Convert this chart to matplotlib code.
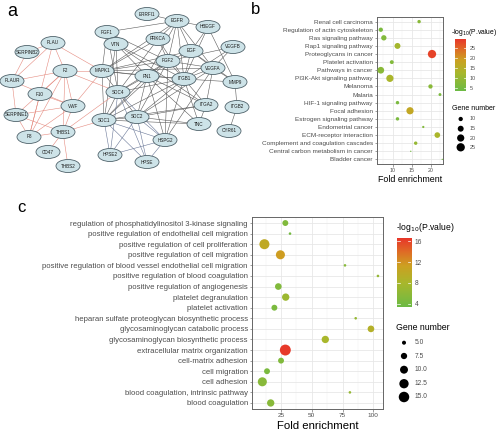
import numpy as np
import matplotlib
matplotlib.use("Agg")
import matplotlib.pyplot as plt
from matplotlib.patches import Ellipse
from matplotlib.colors import LinearSegmentedColormap, Normalize

plt.rcParams['font.family'] = ['Liberation Sans', 'DejaVu Sans']

# ---------------- data ----------------
# Panel a: network (node layout positions in panel pixel space)
node_names = ["ERRFI1", "EGFR", "HBEGF", "FGF1", "PRKCA", "VTN", "EGF", "VEGFB", "PLAU",
              "SERPINB2", "FGF2", "VEGFA", "F2", "MAPK1", "FN1", "ITGB1", "MMP9", "PLAUR",
              "F10", "SDC4", "VWF", "ITGA2", "ITGB2", "SERPINE1", "SDC1", "SDC2", "TNC",
              "CYR61", "F8", "THBS1", "HSPG2", "CD47", "HPSE2", "HPSE", "THBS2"]
node_x = [147, 177, 208, 107, 158, 116, 191, 233, 53, 27, 168, 213, 65, 102, 147, 184, 235, 12,
          40, 118, 73, 206, 237, 16, 104, 137, 199, 229, 29, 63, 165, 48, 110, 147, 68]
node_y = [14, 21, 27, 32, 39, 44, 51, 47, 43, 52, 61, 68, 71, 71, 76, 79, 82, 81,
          94, 92, 106, 105, 107, 115, 120, 117, 124, 131, 137, 132, 140, 152, 155, 162, 166]

red_edges = [("PLAU", "SERPINB2"), ("PLAU", "F2"), ("PLAU", "MAPK1"), ("PLAU", "PLAUR"), ("PLAU", "F8"),
             ("SERPINB2", "PLAUR"), ("PLAUR", "F2"), ("PLAUR", "SERPINE1"), ("PLAUR", "VWF"),
             ("F2", "F10"), ("F2", "VWF"), ("F2", "F8"), ("F2", "MAPK1"), ("F2", "SDC4"),
             ("F2", "SERPINE1"), ("F2", "THBS1"), ("F10", "VWF"), ("F10", "F8"),
             ("VWF", "SERPINE1"), ("VWF", "F8"), ("VWF", "THBS1"), ("VWF", "MAPK1"),
             ("SERPINE1", "F8"), ("SERPINE1", "THBS1"), ("F8", "THBS1"), ("THBS1", "CD47"),
             ("THBS1", "THBS2"), ("THBS1", "SDC1"), ("THBS1", "SDC4")]
blue_edges = [("SDC1", "HPSE2"), ("SDC1", "HPSE"), ("SDC2", "HPSE2"), ("SDC2", "HPSE"),
              ("HSPG2", "HPSE"), ("HSPG2", "HPSE2"), ("SDC4", "HPSE2"), ("SDC4", "HPSE"),
              ("SDC1", "HSPG2"), ("SDC2", "HSPG2"), ("SDC4", "HSPG2")]
dark_edges = [("ERRFI1", "EGFR"), ("EGFR", "FGF1"), ("EGFR", "HBEGF"), ("EGFR", "PRKCA"), ("EGFR", "EGF"),
              ("EGFR", "FGF2"), ("EGFR", "ITGB1"), ("EGFR", "VEGFA"), ("EGFR", "MAPK1"), ("EGFR", "FN1"),
              ("HBEGF", "EGF"), ("HBEGF", "MMP9"), ("HBEGF", "ITGB1"), ("FGF1", "SDC4"), ("FGF1", "FGF2"),
              ("FGF1", "MAPK1"), ("VTN", "ITGB1"), ("VTN", "FN1"), ("VTN", "SDC4"), ("VTN", "ITGA2"),
              ("VTN", "SDC1"), ("PRKCA", "MAPK1"), ("PRKCA", "FGF2"), ("PRKCA", "SDC4"), ("PRKCA", "ITGB1"),
              ("EGF", "FGF2"), ("EGF", "VEGFA"), ("EGF", "MAPK1"), ("EGF", "ITGB1"), ("EGF", "MMP9"),
              ("VEGFB", "VEGFA"), ("VEGFB", "FGF2"), ("VEGFB", "ITGB1"), ("FGF2", "MAPK1"), ("FGF2", "FN1"),
              ("FGF2", "VEGFA"), ("FGF2", "SDC4"), ("FGF2", "SDC2"), ("FGF2", "SDC1"), ("FGF2", "HSPG2"),
              ("FGF2", "ITGB1"), ("VEGFA", "MAPK1"), ("VEGFA", "ITGB1"), ("VEGFA", "MMP9"), ("VEGFA", "SDC2"),
              ("VEGFA", "HSPG2"), ("VEGFA", "ITGA2"), ("MAPK1", "FN1"), ("MAPK1", "ITGB1"),
              ("MAPK1", "SDC4"), ("MAPK1", "SDC1"), ("FN1", "ITGB1"), ("FN1", "SDC4"),
              ("FN1", "SDC1"), ("FN1", "SDC2"), ("FN1", "ITGA2"), ("FN1", "TNC"), ("FN1", "HSPG2"),
              ("ITGB1", "MMP9"), ("ITGB1", "ITGA2"), ("ITGB1", "SDC4"), ("ITGB1", "SDC1"),
              ("ITGB1", "SDC2"), ("ITGB1", "TNC"), ("MMP9", "ITGB2"), ("ITGA2", "TNC"),
              ("ITGA2", "SDC2"), ("ITGA2", "SDC1"), ("ITGB2", "CYR61"), ("SDC4", "SDC1"),
              ("SDC4", "SDC2"), ("SDC1", "SDC2"), ("SDC1", "TNC"), ("SDC2", "TNC"),
              ("ITGB1", "HSPG2")]

# Panel b: KEGG
b_terms = ["Renal cell carcinoma", "Regulation of actin cytoskeleton", "Ras signaling pathway",
           "Rap1 signaling pathway", "Proteoglycans in cancer", "Platelet activation",
           "Pathways in cancer", "PI3K-Akt signaling pathway", "Melanoma", "Malaria",
           "HIF-1 signaling pathway", "Focal adhesion", "Estrogen signaling pathway",
           "Endometrial cancer", "ECM-receptor interaction", "Complement and coagulation cascades",
           "Central carbon metabolism in cancer", "Bladder cancer"]
b_fold = [16.9, 6.8, 7.6, 11.2, 20.3, 9.7, 6.8, 9.2, 19.9, 22.4, 11.2, 14.5, 11.2, 18.0, 21.7, 16.0, 14.7, 23.0]
b_genes = [8, 10, 13, 15, 25, 9, 18, 20, 10, 7, 8, 20, 8, 6, 14, 8, 5, 5]
b_logp = [8, 6, 7, 12, 28, 7, 8, 13, 8, 6, 6, 17, 6, 7, 13, 10, 5, 5]
b_xticks = [10, 15, 20]
b_cticks = [5, 10, 15, 20, 25]
b_legend = [10, 15, 20, 25]

# Panel c: GO BP
c_terms = ["regulation of phosphatidylinositol 3-kinase signaling",
           "positive regulation of endothelial cell migration",
           "positive regulation of cell proliferation",
           "positive regulation of cell migration",
           "positive regulation of blood vessel endothelial cell migration",
           "positive regulation of blood coagulation",
           "positive regulation of angiogenesis",
           "platelet degranulation",
           "platelet activation",
           "heparan sulfate proteoglycan biosynthetic process",
           "glycosaminoglycan catabolic process",
           "glycosaminoglycan biosynthetic process",
           "extracellular matrix organization",
           "cell-matrix adhesion",
           "cell migration",
           "cell adhesion",
           "blood coagulation, intrinsic pathway",
           "blood coagulation"]
c_fold = [28.5, 32.3, 11.5, 24.5, 77, 103.8, 22.8, 28.8, 19.6, 85.7, 98.1, 61, 28.5, 25, 13.6, 9.8, 81, 16.6]
c_genes = [7, 4, 14, 12, 4, 4, 8, 9, 7, 4, 8, 9, 16, 7, 7, 12, 4, 9]
c_logp = [5, 4, 10, 11.5, 5.5, 6.5, 5, 7, 4.5, 6.5, 9, 8, 16.5, 5, 4.5, 5.5, 6.5, 5.5]
c_xticks = [25, 50, 75, 100]
c_cticks = [4, 8, 12, 16]
c_legend = [5.0, 7.5, 10.0, 12.5, 15.0]

# ---------------- styling ----------------
W, H = 500, 432
cmap = LinearSegmentedColormap.from_list(
    "gr", [(0, "#6cbb45"), (0.35, "#a9b72c"), (0.6, "#cda021"), (0.8, "#df6c26"), (1, "#e8362a")])
TXT = "#4d4d4d"


def rect(l, t, r, b):
    return [l / W, 1 - b / H, (r - l) / W, (b - t) / H]


def b_size(n):
    return np.maximum(1.74 * np.asarray(n, float) - 7.8, 0.8)


def c_size(n):
    return np.maximum(4.87 * np.asarray(n, float) - 16.0, 1.5)


fig = plt.figure(figsize=(5, 4.32), dpi=100)

# ---------------- panel a ----------------
axa = fig.add_axes(rect(0, 0, 250, 185))
axa.set_xlim(0, 250)
axa.set_ylim(185, 0)
axa.axis("off")
pos = {n: (x, y) for n, x, y in zip(node_names, node_x, node_y)}
for edges, col in [(dark_edges, "#5a5a5a"), (blue_edges, "#6a7898"), (red_edges, "#e58b80")]:
    for u, v in edges:
        axa.plot([pos[u][0], pos[v][0]], [pos[u][1], pos[v][1]], color=col, lw=0.4, zorder=1)
for n in node_names:
    x, y = pos[n]
    axa.add_patch(Ellipse((x, y), 24, 13, facecolor="#cde3e8", edgecolor="#50636b", lw=0.6, zorder=3))
    axa.text(x, y, n, ha="center", va="center", fontsize=3.3, color="#1a1a1a", zorder=4)


# ---------------- bubble panels ----------------
def bubble(ax_rect, terms, fold, genes, logp, xlim, xticks, norm, sizef, ylab_fs, tick_fs, xlab_fs,
           xlab_y, minor_step):
    ax = fig.add_axes(rect(*ax_rect))
    n = len(terms)
    y = np.arange(n)
    ax.set_xlim(*xlim)
    ax.set_ylim(n - 1 + 0.57, -0.57)
    for t in xticks:
        ax.axvline(t, color="#e6e6e6", lw=0.55, zorder=0)
    m = xticks[0] - minor_step
    while m < xlim[1]:
        if m > xlim[0]:
            ax.axvline(m, color="#f0f0f0", lw=0.3, zorder=0)
        m += 2 * minor_step
    for yy in y:
        ax.axhline(yy, color="#e6e6e6", lw=0.55, zorder=0)
    ax.scatter(fold, y, s=sizef(genes), c=cmap(norm(logp)), linewidths=0, zorder=3)
    ax.set_yticks(y)
    ax.set_yticklabels(terms, fontsize=ylab_fs, color=TXT)
    ax.set_xticks(xticks)
    ax.set_xticklabels([str(t) for t in xticks], fontsize=tick_fs, color=TXT)
    ax.tick_params(length=1.8, width=0.4, color="#555555", pad=1.2)
    for s in ax.spines.values():
        s.set_color("#666666")
        s.set_linewidth(0.7)
    fig.text(((ax_rect[0] + ax_rect[2]) / 2) / W, 1 - xlab_y / H, "Fold enrichment",
             ha="center", va="center", fontsize=xlab_fs)
    return ax


b_norm = Normalize(3.7, 29.3)
c_norm = Normalize(3.34, 16.66)
bubble((377, 17, 443, 164), b_terms, b_fold, b_genes, b_logp, (5.8, 23.2), b_xticks, b_norm,
       b_size, 4.6, 3.8, 6.4, 179, 2.5)
bubble((252, 217, 383, 409), c_terms, c_fold, c_genes, c_logp, (1.4, 107.9), c_xticks, c_norm,
       c_size, 5.6, 4.6, 8.2, 426, 12.5)


# ---------------- colorbars ----------------
def colorbar(r, norm, ticks, fs):
    cax = fig.add_axes(rect(*r))
    grad = np.linspace(norm.vmin, norm.vmax, 256).reshape(-1, 1)
    cax.imshow(grad, aspect="auto", cmap=cmap, norm=norm, origin="lower",
               extent=(0, 1, norm.vmin, norm.vmax))
    cax.set_xlim(0, 1)
    cax.set_ylim(norm.vmin, norm.vmax)
    cax.set_xticks([])
    cax.yaxis.tick_right()
    cax.set_yticks(ticks)
    cax.set_yticklabels([str(t) for t in ticks], fontsize=fs, color=TXT)
    cax.tick_params(axis="y", length=0, pad=2.5)
    for t in ticks:
        cax.plot([0, 0.2], [t, t], color="white", lw=0.5)
        cax.plot([0.8, 1], [t, t], color="white", lw=0.5)
    for s in cax.spines.values():
        s.set_visible(False)


colorbar((455, 39, 466, 91), b_norm, b_cticks, 3.9)
colorbar((397, 238, 411, 307), c_norm, c_cticks, 4.8)

# ---------------- overlay: labels and size legends ----------------
ov = fig.add_axes([0, 0, 1, 1], facecolor="none")
ov.set_xlim(0, W)
ov.set_ylim(H, 0)
ov.axis("off")

ov.text(7, 11, "a", fontsize=13, ha="left", va="center")
ov.text(251, 10, "b", fontsize=12, ha="left", va="center")
ov.text(17, 207, "c", fontsize=12, ha="left", va="center")

ov.text(451, 33, "-log$_{10}$(P.value)", fontsize=4.9, ha="left", va="center")
ov.text(396, 228, "-log$_{10}$(P.value)", fontsize=6.2, ha="left", va="center")

ov.text(452, 108, "Gene number", fontsize=5.0, ha="left", va="center")
b_ly = [119, 128.7, 138, 147.3]
ov.scatter([460.7] * len(b_legend), b_ly, s=b_size(b_legend), c="black", linewidths=0)
for v, yy in zip(b_legend, b_ly):
    ov.text(470, yy, str(v), fontsize=3.9, color=TXT, ha="left", va="center")

ov.text(396, 328, "Gene number", fontsize=6.3, ha="left", va="center")
c_ly = [342.7, 356, 369.7, 383.7, 397]
ov.scatter([404] * len(c_legend), c_ly, s=c_size(c_legend), c="black", linewidths=0)
for v, yy in zip(c_legend, c_ly):
    ov.text(414.5, yy, f"{v:.1f}", fontsize=4.8, color=TXT, ha="left", va="center")

fig.savefig("out.png", dpi=100)
